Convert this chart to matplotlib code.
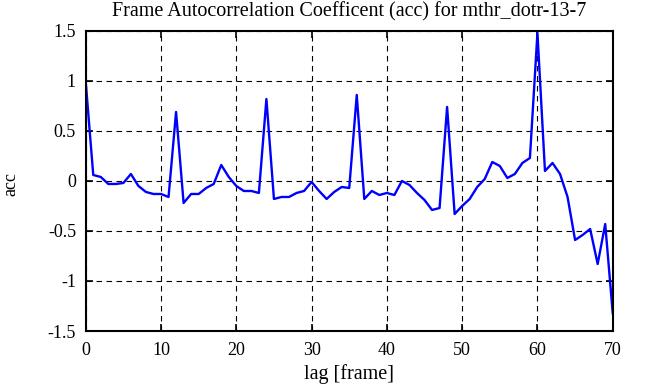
import matplotlib
matplotlib.use("Agg")
import matplotlib.pyplot as plt

plt.rcParams['font.family'] = ['Liberation Serif', 'DejaVu Serif']

lag = list(range(71))
acc = [0.99, 0.06, 0.04, -0.03, -0.03, -0.02, 0.07, -0.05, -0.11, -0.13,
       -0.13, -0.16, 0.69, -0.22, -0.13, -0.13, -0.07, -0.03, 0.16, 0.04,
       -0.05, -0.10, -0.10, -0.12, 0.82, -0.18, -0.16, -0.16, -0.12, -0.10,
       -0.01, -0.10, -0.18, -0.11, -0.06, -0.07, 0.86, -0.18, -0.10, -0.14,
       -0.12, -0.14, 0.00, -0.04, -0.12, -0.19, -0.29, -0.27, 0.74, -0.33,
       -0.25, -0.18, -0.06, 0.02, 0.19, 0.15, 0.03, 0.07, 0.18, 0.23,
       1.48, 0.10, 0.18, 0.07, -0.16, -0.59, -0.54, -0.48, -0.83, -0.43,
       -1.32]

xticks = [0, 10, 20, 30, 40, 50, 60, 70]
yticks = [-1.5, -1, -0.5, 0, 0.5, 1, 1.5]
ytick_labels = ['-1.5', '-1', '-0.5', '0', '0.5', '1', '1.5']

fig = plt.figure(figsize=(6.46, 3.87), dpi=100)
ax = fig.add_axes([0.1327, 0.1447, 0.8158, 0.7753])
ax.plot(lag, acc, color='#0000ff', linewidth=1.7)

ax.set_xlim(0, 70)
ax.set_ylim(-1.5, 1.5)
ax.set_xticks(xticks)
ax.set_yticks(yticks)
ax.set_yticklabels(ytick_labels)
ax.tick_params(direction='in', length=5, width=1.2, labelsize=13,
               top=True, right=True, color='black')
ax.tick_params(axis='x', pad=8)
ax.tick_params(axis='y', pad=7)
ax.grid(True, color='black', linestyle=(0, (5, 4)), linewidth=0.8)
for s in ax.spines.values():
    s.set_linewidth(1.5)

ax.set_title("Frame Autocorrelation Coefficent (acc) for mthr_dotr-13-7",
             fontsize=14.5, pad=10.5)
ax.set_xlabel("lag [frame]", fontsize=14.5)
ax.xaxis.set_label_coords(0.5, -0.11)
ax.set_ylabel("acc", fontsize=13)
ax.yaxis.set_label_coords(-0.125, 0.49)

fig.savefig("out.png", dpi=100)
